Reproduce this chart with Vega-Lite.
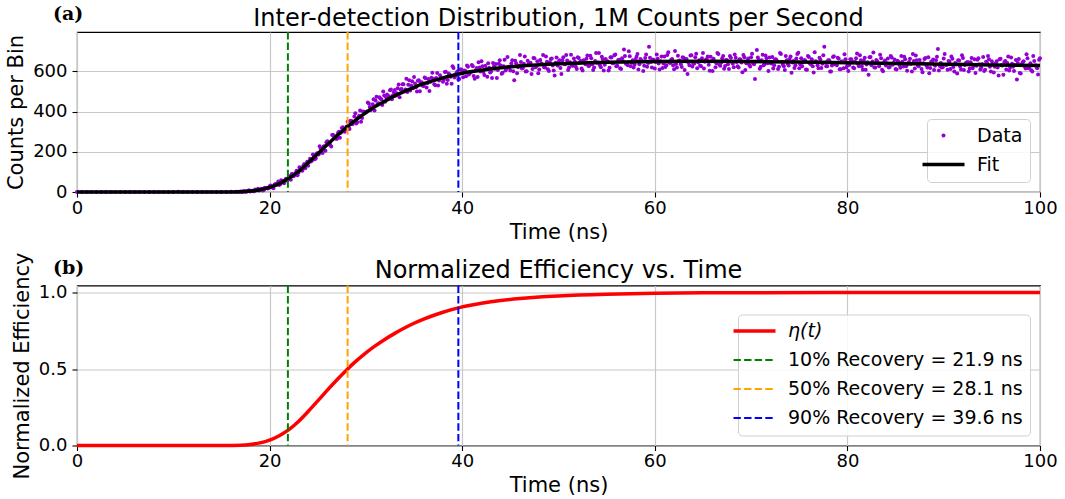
{
  "$schema": "https://vega.github.io/schema/vega-lite/v6.json",
  "padding": {"left": 5, "top": 4, "right": 5, "bottom": 0},
  "background": "white",
  "spacing": 7.5,
  "config": {
    "font": "DejaVu Sans",
    "view": {"stroke": "#000000", "strokeWidth": 1.1},
    "axis": {
      "labelFont": "DejaVu Sans", "labelFontSize": 18, "labelColor": "#000000", "labelFlush": false,
      "titleFont": "DejaVu Sans", "titleFontSize": 21, "titleFontWeight": "normal", "titleColor": "#000000",
      "tickColor": "#000000", "tickSize": 5, "tickWidth": 1.1, "domain": false,
      "gridColor": "#c8c8c8", "gridWidth": 1.2, "gridOpacity": 1
    },
    "axisX": {"labelPadding": 2, "titlePadding": 4},
    "axisY": {"labelPadding": 5, "titlePadding": 6},
    "legend": {
      "labelFont": "DejaVu Sans", "labelFontSize": 19, "labelColor": "#000000", "labelLimit": 0,
      "fillColor": "rgba(255,255,255,0.85)", "strokeColor": "#d0d0d0", "cornerRadius": 4,
      "padding": 7, "rowPadding": 9, "labelOffset": 24, "symbolSize": 1764, "symbolStrokeWidth": 1.5,
      "orient": "bottom-right", "offset": 10
    }
  },
  "datasets": {
    "counts": [
      {"t":0,"c":0},{"t":0.5,"c":0},{"t":1,"c":0},{"t":1.5,"c":0},{"t":2,"c":0},{"t":2.5,"c":0},{"t":3,"c":0},{"t":3.5,"c":0},{"t":4,"c":0},{"t":4.5,"c":0},{"t":5,"c":0},{"t":5.5,"c":0},{"t":6,"c":0},{"t":6.5,"c":0},{"t":7,"c":0},{"t":7.5,"c":0},{"t":8,"c":0},{"t":8.5,"c":0},{"t":9,"c":0},{"t":9.5,"c":0},{"t":10,"c":0},{"t":10.5,"c":1},{"t":11,"c":0},{"t":11.5,"c":0},{"t":12,"c":0},{"t":12.5,"c":0},{"t":13,"c":0},{"t":13.5,"c":0},{"t":14,"c":0},{"t":14.5,"c":0},{"t":15,"c":0},{"t":15.5,"c":0},{"t":16,"c":1},{"t":16.5,"c":1},{"t":16.8,"c":1},
      {"t":17,"c":2},{"t":17.2,"c":1},{"t":17.4,"c":4},{"t":17.6,"c":3},{"t":17.8,"c":7},{"t":18,"c":3},{"t":18.2,"c":6},{"t":18.4,"c":4},{"t":18.6,"c":10},{"t":18.8,"c":16},
      {"t":19,"c":10},{"t":19.2,"c":16},{"t":19.4,"c":10},{"t":19.6,"c":19},{"t":19.8,"c":18},{"t":20,"c":29},{"t":20.2,"c":26},{"t":20.4,"c":19},{"t":20.6,"c":40},{"t":20.8,"c":41},
      {"t":21,"c":35},{"t":21.2,"c":59},{"t":21.4,"c":50},{"t":21.6,"c":58},{"t":21.8,"c":57},{"t":22,"c":79},{"t":22.2,"c":61},{"t":22.4,"c":88},{"t":22.6,"c":86},{"t":22.8,"c":106},
      {"t":23,"c":96},{"t":23.2,"c":115},{"t":23.4,"c":106},{"t":23.6,"c":139},{"t":23.8,"c":136},{"t":24,"c":131},{"t":24.2,"c":166},{"t":24.4,"c":157},{"t":24.6,"c":182},{"t":24.8,"c":168},
      {"t":25,"c":193},{"t":25.2,"c":227},{"t":25.4,"c":199},{"t":25.6,"c":226},{"t":25.8,"c":205},{"t":26,"c":253},{"t":26.2,"c":240},{"t":26.4,"c":226},{"t":26.6,"c":284},{"t":26.8,"c":277},
      {"t":27,"c":265},{"t":27.2,"c":300},{"t":27.4,"c":295},{"t":27.6,"c":322},{"t":27.8,"c":300},{"t":28,"c":326},{"t":28.2,"c":322},{"t":28.4,"c":355},{"t":28.6,"c":337},{"t":28.8,"c":375},
      {"t":29,"c":341},{"t":29.2,"c":371},{"t":29.4,"c":405},{"t":29.6,"c":368},{"t":29.8,"c":399},{"t":30,"c":395},{"t":30.2,"c":445},{"t":30.4,"c":423},{"t":30.6,"c":414},{"t":30.8,"c":462},
      {"t":31,"c":455},{"t":31.2,"c":436},{"t":31.4,"c":472},{"t":31.6,"c":462},{"t":31.8,"c":500},{"t":32,"c":449},{"t":32.2,"c":485},{"t":32.4,"c":476},{"t":32.6,"c":510},{"t":32.8,"c":480},
      {"t":33,"c":508},{"t":33.2,"c":491},{"t":33.4,"c":535},{"t":33.6,"c":510},{"t":33.8,"c":536},{"t":34,"c":501},{"t":34.2,"c":563},{"t":34.4,"c":534},{"t":34.6,"c":505},{"t":34.8,"c":551},
      {"t":35,"c":572},{"t":35.2,"c":521},{"t":35.4,"c":553},{"t":35.6,"c":501},{"t":35.8,"c":546},{"t":36,"c":527},{"t":36.2,"c":566},{"t":36.4,"c":542},{"t":36.6,"c":503},{"t":36.8,"c":568},
      {"t":37,"c":563},{"t":37.2,"c":531},{"t":37.4,"c":592},{"t":37.6,"c":555},{"t":37.8,"c":567},{"t":38,"c":548},{"t":38.2,"c":597},{"t":38.4,"c":539},{"t":38.6,"c":589},{"t":38.8,"c":573},
      {"t":39,"c":625},{"t":39.2,"c":570},{"t":39.4,"c":592},{"t":39.6,"c":560},{"t":39.8,"c":609},{"t":40,"c":592},
      {"t":17.1,"c":1},{"t":17.3,"c":4},{"t":17.5,"c":1},{"t":17.7,"c":4},{"t":17.9,"c":7},{"t":18.1,"c":5},{"t":18.3,"c":4},{"t":18.5,"c":12},{"t":18.7,"c":9},{"t":18.9,"c":8},
      {"t":19.1,"c":14},{"t":19.3,"c":8},{"t":19.5,"c":21},{"t":19.7,"c":20},{"t":19.9,"c":20},{"t":20.1,"c":32},{"t":20.3,"c":23},{"t":20.5,"c":36},{"t":20.7,"c":36},{"t":20.9,"c":52},
      {"t":21.1,"c":39},{"t":21.3,"c":53},{"t":21.5,"c":44},{"t":21.7,"c":66},{"t":21.9,"c":65},{"t":22.1,"c":68},{"t":22.3,"c":89},{"t":22.5,"c":78},{"t":22.7,"c":95},{"t":22.9,"c":83},
      {"t":23.1,"c":123},{"t":23.3,"c":113},{"t":23.5,"c":131},{"t":23.7,"c":118},{"t":23.9,"c":151},{"t":24.1,"c":152},{"t":24.3,"c":152},{"t":24.5,"c":186},{"t":24.7,"c":163},{"t":24.9,"c":192},
      {"t":25.1,"c":187},{"t":25.3,"c":216},{"t":25.5,"c":194},{"t":25.7,"c":227},{"t":25.9,"c":248},{"t":26.1,"c":237},{"t":26.3,"c":234},{"t":26.5,"c":283},{"t":26.7,"c":269},{"t":26.9,"c":265},
      {"t":27.1,"c":293},{"t":27.3,"c":270},{"t":27.5,"c":318},{"t":27.7,"c":313},{"t":27.9,"c":312},{"t":28.1,"c":350},{"t":28.3,"c":313},{"t":28.5,"c":353},{"t":28.7,"c":347},{"t":28.9,"c":392},
      {"t":29.1,"c":347},{"t":29.3,"c":379},{"t":29.5,"c":350},{"t":29.7,"c":400},{"t":29.9,"c":396},{"t":30.1,"c":401},{"t":30.3,"c":440},{"t":30.5,"c":407},{"t":30.7,"c":436},{"t":30.9,"c":405},
      {"t":31.1,"c":474},{"t":31.3,"c":442},{"t":31.5,"c":465},{"t":31.7,"c":433},{"t":31.9,"c":480},{"t":32.1,"c":472},{"t":32.3,"c":461},{"t":32.5,"c":506},{"t":32.7,"c":462},{"t":32.9,"c":496},
      {"t":33.1,"c":480},{"t":33.3,"c":516},{"t":33.5,"c":472},{"t":33.7,"c":513},{"t":33.9,"c":536},{"t":34.1,"c":510},{"t":34.3,"c":497},{"t":34.5,"c":556},{"t":34.7,"c":530},{"t":34.9,"c":516},
      {"t":35.1,"c":540},{"t":35.3,"c":500},{"t":35.5,"c":556},{"t":35.7,"c":543},{"t":35.9,"c":529},{"t":36.1,"c":570},{"t":36.3,"c":520},{"t":36.5,"c":562},{"t":36.7,"c":548},{"t":36.9,"c":593},
      {"t":37.1,"c":536},{"t":37.3,"c":567},{"t":37.5,"c":530},{"t":37.7,"c":581},{"t":37.9,"c":567},{"t":38.1,"c":559},{"t":38.3,"c":598},{"t":38.5,"c":557},{"t":38.7,"c":583},{"t":38.9,"c":539},
      {"t":39.1,"c":617},{"t":39.3,"c":578},{"t":39.5,"c":600},{"t":39.7,"c":562},{"t":39.9,"c":609},
      {"t":40.2,"c":605},{"t":40.4,"c":576},{"t":40.6,"c":623},{"t":40.8,"c":592},{"t":41,"c":632},{"t":41.2,"c":577},{"t":41.4,"c":606},{"t":41.6,"c":572},{"t":41.8,"c":620},{"t":42,"c":650},
      {"t":42.2,"c":597},{"t":42.4,"c":628},{"t":42.6,"c":573},{"t":42.8,"c":618},{"t":43,"c":599},{"t":43.2,"c":642},{"t":43.4,"c":613},{"t":43.6,"c":567},{"t":43.8,"c":638},{"t":44,"c":629},
      {"t":44.2,"c":593},{"t":44.4,"c":658},{"t":44.6,"c":613},{"t":44.8,"c":623},{"t":45,"c":604},{"t":45.2,"c":655},{"t":45.4,"c":556},{"t":45.6,"c":641},{"t":45.8,"c":621},{"t":46,"c":682},
      {"t":46.2,"c":614},{"t":46.4,"c":638},{"t":46.6,"c":600},{"t":46.8,"c":653},{"t":47,"c":630},{"t":47.2,"c":587},{"t":47.4,"c":667},{"t":47.6,"c":621},{"t":47.8,"c":651},{"t":48,"c":609},
      {"t":48.2,"c":640},{"t":48.4,"c":681},{"t":48.6,"c":619},{"t":48.8,"c":648},{"t":49,"c":602},{"t":49.2,"c":662},{"t":49.4,"c":629},{"t":49.6,"c":579},{"t":49.8,"c":669},{"t":50,"c":646},
      {"t":50.2,"c":617},{"t":50.4,"c":655},{"t":50.6,"c":636},{"t":50.8,"c":681},{"t":51,"c":607},{"t":51.2,"c":645},{"t":51.4,"c":629},{"t":51.6,"c":664},{"t":51.8,"c":623},{"t":52,"c":670},
      {"t":52.2,"c":644},{"t":52.4,"c":614},{"t":52.6,"c":656},{"t":52.8,"c":635},{"t":53,"c":679},{"t":53.2,"c":628},{"t":53.4,"c":665},{"t":53.6,"c":607},{"t":53.8,"c":652},{"t":54,"c":643},
      {"t":54.2,"c":692},{"t":54.4,"c":621},{"t":54.6,"c":661},{"t":54.8,"c":633},{"t":55,"c":647},{"t":55.2,"c":604},{"t":55.4,"c":670},{"t":55.6,"c":640},{"t":55.8,"c":680},{"t":56,"c":626},
      {"t":56.2,"c":657},{"t":56.4,"c":616},{"t":56.6,"c":666},{"t":56.8,"c":709},{"t":57,"c":638},{"t":57.2,"c":630},{"t":57.4,"c":675},{"t":57.6,"c":643},{"t":57.8,"c":619},{"t":58,"c":660},
      {"t":58.2,"c":687},{"t":58.4,"c":635},{"t":58.6,"c":655},{"t":58.8,"c":602},{"t":59,"c":667},{"t":59.2,"c":623},{"t":59.4,"c":722},{"t":59.6,"c":647},{"t":59.8,"c":659},{"t":60,"c":614},
      {"t":60.2,"c":684},{"t":60.4,"c":639},{"t":60.6,"c":651},{"t":60.8,"c":617},{"t":61,"c":674},{"t":61.2,"c":630},{"t":61.4,"c":695},{"t":61.6,"c":642},{"t":61.8,"c":662},{"t":62,"c":611},
      {"t":62.2,"c":637},{"t":62.4,"c":678},{"t":62.6,"c":654},{"t":62.8,"c":622},{"t":63,"c":667},{"t":63.2,"c":659},{"t":63.4,"c":587},{"t":63.6,"c":630},{"t":63.8,"c":680},{"t":64,"c":639},
      {"t":64.2,"c":670},{"t":64.4,"c":616},{"t":64.6,"c":656},{"t":64.8,"c":625},{"t":65,"c":691},{"t":65.2,"c":648},{"t":65.4,"c":662},{"t":65.6,"c":633},{"t":65.8,"c":673},{"t":66,"c":602},
      {"t":66.2,"c":651},{"t":66.4,"c":641},{"t":66.6,"c":686},{"t":66.8,"c":628},{"t":67,"c":665},{"t":67.2,"c":613},{"t":67.4,"c":657},{"t":67.6,"c":636},{"t":67.8,"c":677},{"t":68,"c":647},
      {"t":68.2,"c":621},{"t":68.4,"c":668},{"t":68.6,"c":626},{"t":68.8,"c":661},{"t":69,"c":644},{"t":69.2,"c":681},{"t":69.4,"c":607},{"t":69.6,"c":652},{"t":69.8,"c":633},{"t":70,"c":670},
      {"t":70.2,"c":641},{"t":70.4,"c":562},{"t":70.6,"c":707},{"t":70.8,"c":657},{"t":71,"c":623},{"t":71.2,"c":683},{"t":71.4,"c":636},{"t":71.6,"c":665},{"t":71.8,"c":602},{"t":72,"c":642},
      {"t":72.2,"c":672},{"t":72.4,"c":630},{"t":72.6,"c":659},{"t":72.8,"c":612},{"t":73,"c":692},{"t":73.2,"c":648},{"t":73.4,"c":625},{"t":73.6,"c":677},{"t":73.8,"c":638},{"t":74,"c":662},
      {"t":74.2,"c":593},{"t":74.4,"c":652},{"t":74.6,"c":631},{"t":74.8,"c":687},{"t":75,"c":616},{"t":75.2,"c":666},{"t":75.4,"c":646},{"t":75.6,"c":655},{"t":75.8,"c":608},{"t":76,"c":672},
      {"t":76.2,"c":635},{"t":76.4,"c":625},{"t":76.6,"c":695},{"t":76.8,"c":648},{"t":77,"c":616},{"t":77.2,"c":658},{"t":77.4,"c":638},{"t":77.6,"c":722},{"t":77.8,"c":626},{"t":78,"c":655},
      {"t":78.2,"c":600},{"t":78.4,"c":629},{"t":78.6,"c":675},{"t":78.8,"c":640},{"t":79,"c":668},{"t":79.2,"c":611},{"t":79.4,"c":649},{"t":79.6,"c":616},{"t":79.8,"c":661},{"t":80,"c":631},
      {"t":80.2,"c":632},{"t":80.4,"c":661},{"t":80.6,"c":619},{"t":80.8,"c":648},{"t":81,"c":689},{"t":81.2,"c":626},{"t":81.4,"c":655},{"t":81.6,"c":608},{"t":81.8,"c":668},{"t":82,"c":634},
      {"t":82.2,"c":583},{"t":82.4,"c":672},{"t":82.6,"c":649},{"t":82.8,"c":620},{"t":83,"c":657},{"t":83.2,"c":638},{"t":83.4,"c":683},{"t":83.6,"c":608},{"t":83.8,"c":645},{"t":84,"c":629},
      {"t":84.2,"c":664},{"t":84.4,"c":622},{"t":84.6,"c":669},{"t":84.8,"c":643},{"t":85,"c":612},{"t":85.2,"c":653},{"t":85.4,"c":632},{"t":85.6,"c":676},{"t":85.8,"c":624},{"t":86,"c":661},
      {"t":86.2,"c":603},{"t":86.4,"c":647},{"t":86.6,"c":637},{"t":86.8,"c":686},{"t":87,"c":615},{"t":87.2,"c":655},{"t":87.4,"c":626},{"t":87.6,"c":640},{"t":87.8,"c":596},{"t":88,"c":662},
      {"t":88.2,"c":631},{"t":88.4,"c":671},{"t":88.6,"c":617},{"t":88.8,"c":648},{"t":89,"c":607},{"t":89.2,"c":656},{"t":89.4,"c":712},{"t":89.6,"c":627},{"t":89.8,"c":619},{"t":90,"c":664},
      {"t":90.2,"c":632},{"t":90.4,"c":608},{"t":90.6,"c":649},{"t":90.8,"c":674},{"t":91,"c":622},{"t":91.2,"c":642},{"t":91.4,"c":589},{"t":91.6,"c":654},{"t":91.8,"c":610},{"t":92,"c":667},
      {"t":92.2,"c":632},{"t":92.4,"c":644},{"t":92.6,"c":599},{"t":92.8,"c":646},{"t":93,"c":616},{"t":93.2,"c":661},{"t":93.4,"c":628},{"t":93.6,"c":666},{"t":93.8,"c":609},{"t":94,"c":637},
      {"t":94.2,"c":602},{"t":94.4,"c":648},{"t":94.6,"c":677},{"t":94.8,"c":623},{"t":95,"c":651},{"t":95.2,"c":595},{"t":95.4,"c":639},{"t":95.6,"c":619},{"t":95.8,"c":661},{"t":96,"c":630},
      {"t":96.2,"c":583},{"t":96.4,"c":652},{"t":96.6,"c":642},{"t":96.8,"c":605},{"t":97,"c":669},{"t":97.2,"c":623},{"t":97.4,"c":632},{"t":97.6,"c":560},{"t":97.8,"c":662},{"t":98,"c":590},
      {"t":98.2,"c":646},{"t":98.4,"c":625},{"t":98.6,"c":685},{"t":98.8,"c":616},{"t":99,"c":640},{"t":99.2,"c":600},{"t":99.4,"c":652},{"t":99.6,"c":629},{"t":99.8,"c":585},{"t":100,"c":665},
      {"t":40.1,"c":571},{"t":40.3,"c":603},{"t":40.5,"c":629},{"t":40.7,"c":584},{"t":40.9,"c":596},{"t":41.1,"c":625},{"t":41.3,"c":563},{"t":41.5,"c":617},{"t":41.7,"c":645},{"t":41.9,"c":599},
      {"t":42.1,"c":626},{"t":42.3,"c":582},{"t":42.5,"c":612},{"t":42.7,"c":640},{"t":42.9,"c":595},{"t":43.1,"c":567},{"t":43.3,"c":626},{"t":43.5,"c":637},{"t":43.7,"c":607},{"t":43.9,"c":655},
      {"t":44.1,"c":588},{"t":44.3,"c":626},{"t":44.5,"c":605},{"t":44.7,"c":672},{"t":44.9,"c":618},{"t":45.1,"c":639},{"t":45.3,"c":601},{"t":45.5,"c":653},{"t":45.7,"c":591},{"t":45.9,"c":628},
      {"t":46.1,"c":647},{"t":46.3,"c":617},{"t":46.5,"c":674},{"t":46.7,"c":601},{"t":46.9,"c":638},{"t":47.1,"c":643},{"t":47.3,"c":612},{"t":47.5,"c":665},{"t":47.7,"c":626},{"t":47.9,"c":591},
      {"t":48.1,"c":657},{"t":48.3,"c":636},{"t":48.5,"c":621},{"t":48.7,"c":674},{"t":48.9,"c":611},{"t":49.1,"c":646},{"t":49.3,"c":664},{"t":49.5,"c":604},{"t":49.7,"c":643},{"t":49.9,"c":629},
      {"t":50.1,"c":656},{"t":50.3,"c":587},{"t":50.5,"c":670},{"t":50.7,"c":636},{"t":50.9,"c":654},{"t":51.1,"c":619},{"t":51.3,"c":683},{"t":51.5,"c":628},{"t":51.7,"c":648},{"t":51.9,"c":612},
      {"t":52.1,"c":667},{"t":52.3,"c":652},{"t":52.5,"c":604},{"t":52.7,"c":646},{"t":52.9,"c":663},{"t":53.1,"c":627},{"t":53.3,"c":678},{"t":53.5,"c":635},{"t":53.7,"c":619},{"t":53.9,"c":691},
      {"t":54.1,"c":644},{"t":54.3,"c":631},{"t":54.5,"c":673},{"t":54.7,"c":604},{"t":54.9,"c":662},{"t":55.1,"c":651},{"t":55.3,"c":618},{"t":55.5,"c":669},{"t":55.7,"c":641},{"t":55.9,"c":684},
      {"t":56.1,"c":628},{"t":56.3,"c":658},{"t":56.5,"c":612},{"t":56.7,"c":650},{"t":56.9,"c":677},{"t":57.1,"c":637},{"t":57.3,"c":700},{"t":57.5,"c":625},{"t":57.7,"c":656},{"t":57.9,"c":633},
      {"t":58.1,"c":673},{"t":58.3,"c":609},{"t":58.5,"c":662},{"t":58.7,"c":649},{"t":58.9,"c":628},{"t":59.1,"c":684},{"t":59.3,"c":642},{"t":59.5,"c":668},{"t":59.7,"c":619},{"t":59.9,"c":657},
      {"t":60.1,"c":647},{"t":60.3,"c":663},{"t":60.5,"c":610},{"t":60.7,"c":674},{"t":60.9,"c":639},{"t":61.1,"c":622},{"t":61.3,"c":682},{"t":61.5,"c":644},{"t":61.7,"c":658},{"t":61.9,"c":631},
      {"t":62.1,"c":702},{"t":62.3,"c":619},{"t":62.5,"c":653},{"t":62.7,"c":635},{"t":62.9,"c":671},{"t":63.1,"c":607},{"t":63.3,"c":662},{"t":63.5,"c":643},{"t":63.7,"c":679},{"t":63.9,"c":624},
      {"t":64.1,"c":639},{"t":64.3,"c":688},{"t":64.5,"c":646},{"t":64.7,"c":629},{"t":64.9,"c":666},{"t":65.1,"c":615},{"t":65.3,"c":658},{"t":65.5,"c":674},{"t":65.7,"c":603},{"t":65.9,"c":650},
      {"t":66.1,"c":663},{"t":66.3,"c":621},{"t":66.5,"c":691},{"t":66.7,"c":633},{"t":66.9,"c":644},{"t":67.1,"c":677},{"t":67.3,"c":627},{"t":67.5,"c":655},{"t":67.7,"c":612},{"t":67.9,"c":668},
      {"t":68.1,"c":638},{"t":68.3,"c":684},{"t":68.5,"c":647},{"t":68.7,"c":620},{"t":68.9,"c":659},{"t":69.1,"c":596},{"t":69.3,"c":671},{"t":69.5,"c":640},{"t":69.7,"c":664},{"t":69.9,"c":624},
      {"t":70.1,"c":688},{"t":70.3,"c":635},{"t":70.5,"c":648},{"t":70.7,"c":669},{"t":70.9,"c":613},{"t":71.1,"c":656},{"t":71.3,"c":630},{"t":71.5,"c":679},{"t":71.7,"c":641},{"t":71.9,"c":669},
      {"t":72.1,"c":639},{"t":72.3,"c":614},{"t":72.5,"c":661},{"t":72.7,"c":650},{"t":72.9,"c":623},{"t":73.1,"c":686},{"t":73.3,"c":634},{"t":73.5,"c":607},{"t":73.7,"c":655},{"t":73.9,"c":629},
      {"t":74.1,"c":674},{"t":74.3,"c":644},{"t":74.5,"c":617},{"t":74.7,"c":664},{"t":74.9,"c":693},{"t":75.1,"c":635},{"t":75.3,"c":625},{"t":75.5,"c":656},{"t":75.7,"c":609},{"t":75.9,"c":677},
      {"t":76.1,"c":640},{"t":76.3,"c":661},{"t":76.5,"c":595},{"t":76.7,"c":650},{"t":76.9,"c":630},{"t":77.1,"c":668},{"t":77.3,"c":617},{"t":77.5,"c":680},{"t":77.7,"c":644},{"t":77.9,"c":625},
      {"t":78.1,"c":656},{"t":78.3,"c":599},{"t":78.5,"c":672},{"t":78.7,"c":636},{"t":78.9,"c":631},{"t":79.1,"c":663},{"t":79.3,"c":611},{"t":79.5,"c":649},{"t":79.7,"c":685},{"t":79.9,"c":619},
      {"t":80.1,"c":602},{"t":80.3,"c":660},{"t":80.5,"c":649},{"t":80.7,"c":616},{"t":80.9,"c":665},{"t":81.1,"c":637},{"t":81.3,"c":680},{"t":81.5,"c":624},{"t":81.7,"c":654},{"t":81.9,"c":608},
      {"t":82.1,"c":645},{"t":82.3,"c":671},{"t":82.5,"c":631},{"t":82.7,"c":694},{"t":82.9,"c":619},{"t":83.1,"c":650},{"t":83.3,"c":626},{"t":83.5,"c":666},{"t":83.7,"c":601},{"t":83.9,"c":654},
      {"t":84.1,"c":641},{"t":84.3,"c":620},{"t":84.5,"c":676},{"t":84.7,"c":633},{"t":84.9,"c":659},{"t":85.1,"c":609},{"t":85.3,"c":647},{"t":85.5,"c":618},{"t":85.7,"c":648},{"t":85.9,"c":673},
      {"t":86.1,"c":626},{"t":86.3,"c":637},{"t":86.5,"c":663},{"t":86.7,"c":600},{"t":86.9,"c":652},{"t":87.1,"c":679},{"t":87.3,"c":631},{"t":87.5,"c":657},{"t":87.7,"c":612},{"t":87.9,"c":640},
      {"t":88.1,"c":667},{"t":88.3,"c":620},{"t":88.5,"c":591},{"t":88.7,"c":649},{"t":88.9,"c":659},{"t":89.1,"c":628},{"t":89.3,"c":673},{"t":89.5,"c":605},{"t":89.7,"c":642},{"t":89.9,"c":621},
      {"t":90.1,"c":687},{"t":90.3,"c":632},{"t":90.5,"c":652},{"t":90.7,"c":612},{"t":90.9,"c":663},{"t":91.1,"c":600},{"t":91.3,"c":636},{"t":91.5,"c":655},{"t":91.7,"c":624},{"t":91.9,"c":680},
      {"t":92.1,"c":607},{"t":92.3,"c":642},{"t":92.5,"c":647},{"t":92.7,"c":615},{"t":92.9,"c":667},{"t":93.1,"c":628},{"t":93.3,"c":592},{"t":93.5,"c":658},{"t":93.7,"c":635},{"t":93.9,"c":619},
      {"t":94.1,"c":672},{"t":94.3,"c":608},{"t":94.5,"c":643},{"t":94.7,"c":660},{"t":94.9,"c":600},{"t":95.1,"c":637},{"t":95.3,"c":623},{"t":95.5,"c":650},{"t":95.7,"c":580},{"t":95.9,"c":663},
      {"t":96.1,"c":629},{"t":96.3,"c":647},{"t":96.5,"c":610},{"t":96.7,"c":674},{"t":96.9,"c":619},{"t":97.1,"c":638},{"t":97.3,"c":602},{"t":97.5,"c":657},{"t":97.7,"c":642},{"t":97.9,"c":592},
      {"t":98.1,"c":634},{"t":98.3,"c":651},{"t":98.5,"c":614},{"t":98.7,"c":665},{"t":98.9,"c":622},{"t":99.1,"c":606},{"t":99.3,"c":676},{"t":99.5,"c":629},{"t":99.7,"c":616},{"t":99.9,"c":658}
    ],
    "fit": [
      {"t":0,"c":0},{"t":5,"c":0},{"t":10,"c":0},{"t":14,"c":0},{"t":15,"c":0.1},{"t":16,"c":0.3},{"t":17,"c":1.3},{"t":18,"c":4.6},{"t":19,"c":11},{"t":20,"c":23},
      {"t":21,"c":42},{"t":22,"c":68},{"t":23,"c":102},{"t":24,"c":145},{"t":25,"c":190},{"t":26,"c":236},{"t":27,"c":280},{"t":28,"c":322},{"t":29,"c":360},{"t":30,"c":395},
      {"t":31,"c":426},{"t":32,"c":453},{"t":33,"c":478},{"t":34,"c":501},{"t":35,"c":521},{"t":36,"c":539},{"t":37,"c":554},{"t":38,"c":568},{"t":39,"c":580},{"t":40,"c":591},
      {"t":41,"c":599},{"t":42,"c":606},{"t":44,"c":618},{"t":46,"c":627},{"t":48,"c":633},{"t":50,"c":638},{"t":55,"c":645},{"t":60,"c":649},{"t":65,"c":650},{"t":70,"c":649},
      {"t":75,"c":647},{"t":80,"c":643},{"t":85,"c":639},{"t":90,"c":636},{"t":95,"c":632},{"t":100,"c":629}
    ],
    "eta": [
      {"t":0,"e":0},{"t":10,"e":0},{"t":15,"e":0},{"t":16,"e":0.0005},{"t":17,"e":0.002},{"t":18,"e":0.007},{"t":19,"e":0.017},{"t":20,"e":0.035},
      {"t":21,"e":0.064},{"t":22,"e":0.104},{"t":23,"e":0.157},{"t":24,"e":0.222},{"t":25,"e":0.292},{"t":26,"e":0.362},{"t":27,"e":0.43},{"t":28,"e":0.494},
      {"t":29,"e":0.553},{"t":30,"e":0.606},{"t":31,"e":0.653},{"t":32,"e":0.695},{"t":33,"e":0.733},{"t":34,"e":0.768},{"t":35,"e":0.799},{"t":36,"e":0.826},
      {"t":37,"e":0.85},{"t":38,"e":0.871},{"t":39,"e":0.89},{"t":40,"e":0.906},{"t":41,"e":0.919},{"t":42,"e":0.93},{"t":44,"e":0.948},{"t":46,"e":0.961},
      {"t":48,"e":0.971},{"t":50,"e":0.978},{"t":55,"e":0.989},{"t":60,"e":0.995},{"t":65,"e":0.998},{"t":70,"e":0.999},{"t":80,"e":1},{"t":90,"e":1},{"t":100,"e":1}
    ],
    "recovery": [
      {"series":"10% Recovery = 21.9 ns","t":21.9},
      {"series":"50% Recovery = 28.1 ns","t":28.1},
      {"series":"90% Recovery = 39.6 ns","t":39.6}
    ],
    "labelsA": [{"label": "(a)", "title": "Inter-detection Distribution, 1M Counts per Second"}],
    "labelsB": [{"label": "(b)", "title": "Normalized Efficiency vs. Time"}]
  },
  "vconcat": [
    {
      "width": 963,
      "height": 160,
      "layer": [
        {
          "data": {"name": "counts"},
          "mark": {"type": "point", "filled": true, "size": 16, "opacity": 1},
          "encoding": {
            "x": {"field": "t", "type": "quantitative", "scale": {"domain": [0, 100], "nice": false}, "axis": {"values": [0, 20, 40, 60, 80, 100], "format": "d", "title": "Time (ns)"}},
            "y": {"field": "c", "type": "quantitative", "scale": {"domain": [0, 796], "nice": false}, "axis": {"values": [0, 200, 400, 600], "format": "d", "title": "Counts per Bin"}},
            "color": {
              "datum": "Data", "type": "nominal", "title": null,
              "scale": {"domain": ["Data", "Fit", "10% Recovery = 21.9 ns", "50% Recovery = 28.1 ns", "90% Recovery = 39.6 ns"], "range": ["#9400D3", "#000000", "#008000", "#FFA500", "#0000FF"]},
              "legend": {
                "title": null, "values": ["Data", "Fit"],
                "encode": {"symbols": {"update": {
                  "shape": {"signal": "datum.value === 'Fit' ? 'stroke' : 'circle'"},
                  "size": {"signal": "datum.value === 'Fit' ? 1764 : 16"},
                  "fill": {"signal": "datum.value === 'Fit' ? 'transparent' : '#9400D3'"},
                  "stroke": {"signal": "datum.value === 'Fit' ? '#000000' : 'transparent'"},
                  "strokeWidth": {"signal": "datum.value === 'Fit' ? 3.5 : 0"},
                  "opacity": {"value": 1}
                }}}
              }
            }
          }
        },
        {
          "data": {"name": "fit"},
          "mark": {"type": "line", "strokeWidth": 3.5, "interpolate": "monotone"},
          "encoding": {
            "x": {"field": "t", "type": "quantitative"},
            "y": {"field": "c", "type": "quantitative"},
            "color": {
              "datum": "Fit", "type": "nominal", "title": null,
              "legend": {
                "title": null, "values": ["Data", "Fit"],
                "encode": {"symbols": {"update": {
                  "shape": {"signal": "datum.value === 'Fit' ? 'stroke' : 'circle'"},
                  "size": {"signal": "datum.value === 'Fit' ? 1764 : 16"},
                  "fill": {"signal": "datum.value === 'Fit' ? 'transparent' : '#9400D3'"},
                  "stroke": {"signal": "datum.value === 'Fit' ? '#000000' : 'transparent'"},
                  "strokeWidth": {"signal": "datum.value === 'Fit' ? 3.5 : 0"},
                  "opacity": {"value": 1}
                }}}
              }
            }
          }
        },
        {
          "data": {"name": "recovery"},
          "mark": {"type": "rule", "strokeWidth": 2, "strokeDash": [7.4, 3.2]},
          "encoding": {
            "x": {"field": "t", "type": "quantitative"},
            "color": {
              "field": "series", "type": "nominal", "title": null,
              "legend": {
                "title": null, "values": ["Data", "Fit"],
                "encode": {"symbols": {"update": {
                  "shape": {"signal": "datum.value === 'Fit' ? 'stroke' : 'circle'"},
                  "size": {"signal": "datum.value === 'Fit' ? 1764 : 16"},
                  "fill": {"signal": "datum.value === 'Fit' ? 'transparent' : '#9400D3'"},
                  "stroke": {"signal": "datum.value === 'Fit' ? '#000000' : 'transparent'"},
                  "strokeWidth": {"signal": "datum.value === 'Fit' ? 3.5 : 0"},
                  "opacity": {"value": 1}
                }}}
              }
            }
          }
        },
        {
          "data": {"name": "labelsA"},
          "mark": {"type": "text", "font": "DejaVu Serif", "fontWeight": "bold", "fontSize": 19, "align": "left", "baseline": "alphabetic", "dx": -24, "dy": -12, "color": "#000000"},
          "encoding": {
            "x": {"datum": 0, "type": "quantitative"},
            "y": {"datum": 796, "type": "quantitative"},
            "text": {"field": "label", "type": "nominal"}
          }
        },
        {
          "data": {"name": "labelsA"},
          "mark": {"type": "text", "font": "DejaVu Sans", "fontSize": 24, "align": "center", "baseline": "alphabetic", "dy": -6.5, "color": "#000000"},
          "encoding": {
            "x": {"datum": 50, "type": "quantitative"},
            "y": {"datum": 796, "type": "quantitative"},
            "text": {"field": "title", "type": "nominal"}
          }
        }
      ]
    },
    {
      "width": 963,
      "height": 160,
      "layer": [
        {
          "data": {"name": "eta"},
          "mark": {"type": "line", "strokeWidth": 3.5, "interpolate": "monotone"},
          "encoding": {
            "x": {"field": "t", "type": "quantitative", "scale": {"domain": [0, 100], "nice": false}, "axis": {"values": [0, 20, 40, 60, 80, 100], "format": "d", "title": "Time (ns)"}},
            "y": {"field": "e", "type": "quantitative", "scale": {"domain": [0, 1.046], "nice": false}, "axis": {"values": [0, 0.5, 1], "format": ".1f", "title": "Normalized Efficiency"}},
            "color": {
              "datum": "η(t)", "type": "nominal", "title": null,
              "scale": {"domain": ["η(t)", "10% Recovery = 21.9 ns", "50% Recovery = 28.1 ns", "90% Recovery = 39.6 ns"], "range": ["#FF0000", "#008000", "#FFA500", "#0000FF"]},
              "legend": {
                "title": null, "symbolType": "stroke",
                "encode": {
                  "symbols": {"update": {
                    "strokeWidth": {"signal": "datum.value === 'η(t)' ? 3.5 : 2"},
                    "strokeDash": {"signal": "datum.value === 'η(t)' ? [1, 0] : [7.4, 3.2]"},
                    "opacity": {"value": 1}
                  }},
                  "labels": {"update": {
                    "fontStyle": {"signal": "datum.value === 'η(t)' ? 'italic' : 'normal'"}
                  }}
                }
              }
            }
          }
        },
        {
          "data": {"name": "recovery"},
          "mark": {"type": "rule", "strokeWidth": 2, "strokeDash": [7.4, 3.2]},
          "encoding": {
            "x": {"field": "t", "type": "quantitative"},
            "color": {
              "field": "series", "type": "nominal", "title": null,
              "legend": {
                "title": null, "symbolType": "stroke",
                "encode": {
                  "symbols": {"update": {
                    "strokeWidth": {"signal": "datum.value === 'η(t)' ? 3.5 : 2"},
                    "strokeDash": {"signal": "datum.value === 'η(t)' ? [1, 0] : [7.4, 3.2]"},
                    "opacity": {"value": 1}
                  }},
                  "labels": {"update": {
                    "fontStyle": {"signal": "datum.value === 'η(t)' ? 'italic' : 'normal'"}
                  }}
                }
              }
            }
          }
        },
        {
          "data": {"name": "labelsB"},
          "mark": {"type": "text", "font": "DejaVu Serif", "fontWeight": "bold", "fontSize": 19, "align": "left", "baseline": "alphabetic", "dx": -24, "dy": -12, "color": "#000000"},
          "encoding": {
            "x": {"datum": 0, "type": "quantitative"},
            "y": {"datum": 1.046, "type": "quantitative"},
            "text": {"field": "label", "type": "nominal"}
          }
        },
        {
          "data": {"name": "labelsB"},
          "mark": {"type": "text", "font": "DejaVu Sans", "fontSize": 24, "align": "center", "baseline": "alphabetic", "dy": -8, "color": "#000000"},
          "encoding": {
            "x": {"datum": 50, "type": "quantitative"},
            "y": {"datum": 1.046, "type": "quantitative"},
            "text": {"field": "title", "type": "nominal"}
          }
        }
      ]
    }
  ],
  "resolve": {"scale": {"color": "independent"}, "legend": {"color": "independent"}}
}
